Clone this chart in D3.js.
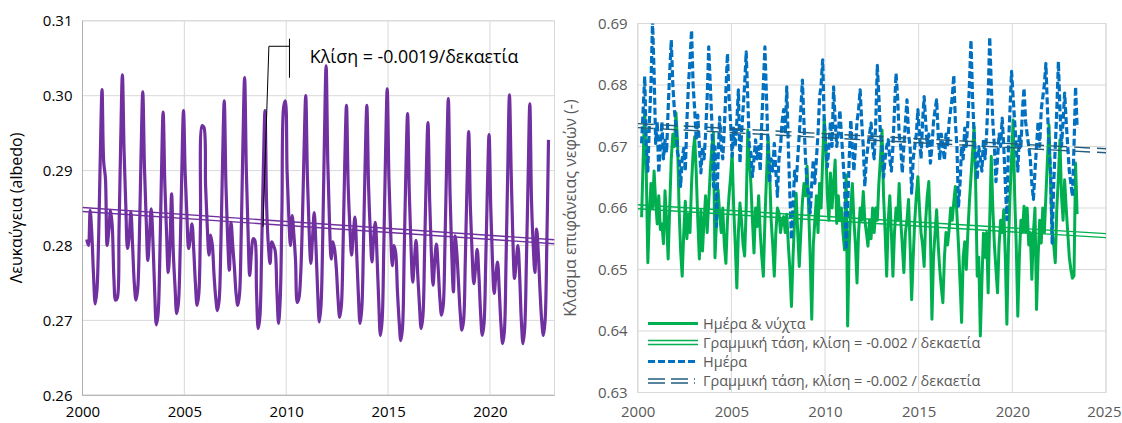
<!DOCTYPE html>
<html>
<head>
<meta charset="utf-8">
<script src="https://cdn.jsdelivr.net/npm/d3@7"></script>
<style>
  body { margin: 0; background: #fff; }
  svg { display: block; font-family: "Open Sans", sans-serif; }
</style>
</head>
<body>
<svg id="chart" width="1122" height="423"></svg>
<script>
// monthly albedo, Mar 2000 .. Nov 2022
var albedo = [
  0.2808, 0.2800, 0.2847, 0.2815, 0.2760, 0.2722, 0.2740, 0.2810, 0.2920, 0.3008,
  0.2911, 0.2890, 0.2800, 0.2820, 0.2847, 0.2827, 0.2756, 0.2727, 0.2730, 0.2818, 0.2938, 0.3028,
  0.2925, 0.2854, 0.2796, 0.2812, 0.2845, 0.2800, 0.2750, 0.2727, 0.2741, 0.2810, 0.2922, 0.3005,
  0.2904, 0.2836, 0.2780, 0.2815, 0.2849, 0.2805, 0.2740, 0.2694, 0.2708, 0.2779, 0.2893, 0.2978,
  0.2882, 0.2818, 0.2764, 0.2800, 0.2869, 0.2790, 0.2745, 0.2709, 0.2723, 0.2790, 0.2899, 0.2980,
  0.2895, 0.2840, 0.2796, 0.2810, 0.2829, 0.2795, 0.2750, 0.2720, 0.2735, 0.2830, 0.2960, 0.2958,
  0.2880, 0.2825, 0.2787, 0.2814, 0.2800, 0.2760, 0.2730, 0.2713, 0.2727, 0.2800, 0.2910, 0.2993,
  0.2880, 0.2810, 0.2767, 0.2831, 0.2800, 0.2770, 0.2735, 0.2720, 0.2735, 0.2815, 0.2935, 0.3024,
  0.2900, 0.2820, 0.2760, 0.2790, 0.2809, 0.2807, 0.2740, 0.2689, 0.2705, 0.2790, 0.2900, 0.2980,
  0.2850, 0.2800, 0.2776, 0.2805, 0.2800, 0.2793, 0.2740, 0.2696, 0.2730, 0.2850, 0.2985, 0.2993,
  0.2900, 0.2840, 0.2800, 0.2840, 0.2815, 0.2780, 0.2724, 0.2730, 0.2760, 0.2830, 0.2925, 0.3000,
  0.2890, 0.2820, 0.2776, 0.2810, 0.2844, 0.2800, 0.2740, 0.2698, 0.2720, 0.2810, 0.2940, 0.3040,
  0.2910, 0.2830, 0.2782, 0.2805, 0.2795, 0.2770, 0.2730, 0.2704, 0.2720, 0.2800, 0.2910, 0.2987,
  0.2880, 0.2825, 0.2787, 0.2815, 0.2838, 0.2790, 0.2735, 0.2696, 0.2715, 0.2800, 0.2910, 0.2987,
  0.2880, 0.2820, 0.2778, 0.2810, 0.2831, 0.2785, 0.2725, 0.2680, 0.2700, 0.2800, 0.2920, 0.3009,
  0.2890, 0.2820, 0.2773, 0.2800, 0.2790, 0.2740, 0.2700, 0.2673, 0.2690, 0.2790, 0.2900, 0.2976,
  0.2870, 0.2800, 0.2751, 0.2780, 0.2807, 0.2760, 0.2720, 0.2689, 0.2705, 0.2790, 0.2895, 0.2964,
  0.2860, 0.2790, 0.2747, 0.2780, 0.2802, 0.2770, 0.2730, 0.2707, 0.2720, 0.2800, 0.2910, 0.2996,
  0.2870, 0.2790, 0.2738, 0.2813, 0.2790, 0.2750, 0.2710, 0.2687, 0.2700, 0.2780, 0.2880, 0.2952,
  0.2850, 0.2790, 0.2749, 0.2770, 0.2795, 0.2760, 0.2710, 0.2680, 0.2695, 0.2775, 0.2875, 0.2948,
  0.2850, 0.2780, 0.2736, 0.2760, 0.2778, 0.2740, 0.2695, 0.2669, 0.2685, 0.2780, 0.2900, 0.3001,
  0.2900, 0.2810, 0.2756, 0.2780, 0.2800, 0.2760, 0.2700, 0.2669, 0.2690, 0.2780, 0.2890, 0.2989,
  0.2860, 0.2800, 0.2764, 0.2822, 0.2790, 0.2740, 0.2700, 0.2680, 0.2700, 0.2800, 0.2941
];

// monthly cloud fraction, Mar 2000 .. Jun 2023
var cloudAll = [
  0.6585, 0.6680, 0.6759, 0.6657, 0.6511, 0.6590, 0.6640, 0.6600, 0.6660, 0.6610,
  0.6574, 0.6620, 0.6565, 0.6574, 0.6542, 0.6628, 0.6580, 0.6517, 0.6600, 0.6680, 0.6720, 0.6700,
  0.6755, 0.6710, 0.6600, 0.6530, 0.6489, 0.6560, 0.6611, 0.6550, 0.6590, 0.6560, 0.6640, 0.6690,
  0.6716, 0.6657, 0.6580, 0.6517, 0.6596, 0.6530, 0.6580, 0.6620, 0.6560, 0.6610, 0.6660, 0.6700,
  0.6722, 0.6519, 0.6580, 0.6630, 0.6590, 0.6560, 0.6600, 0.6540, 0.6510, 0.6580, 0.6620, 0.6650,
  0.6689, 0.6600, 0.6540, 0.6470, 0.6560, 0.6608, 0.6580, 0.6540, 0.6522, 0.6600, 0.6727, 0.6680,
  0.6640, 0.6580, 0.6527, 0.6600, 0.6570, 0.6620, 0.6560, 0.6520, 0.6489, 0.6580, 0.6650, 0.6716,
  0.6660, 0.6580, 0.6540, 0.6489, 0.6560, 0.6600, 0.6592, 0.6560, 0.6580, 0.6586, 0.6560, 0.6590,
  0.6540, 0.6500, 0.6440, 0.6520, 0.6580, 0.6624, 0.6560, 0.6505, 0.6560, 0.6610, 0.6640, 0.6620,
  0.6668, 0.6600, 0.6520, 0.6419, 0.6540, 0.6580, 0.6620, 0.6560, 0.6640, 0.6600, 0.6680, 0.6746,
  0.6700, 0.6620, 0.6580, 0.6657, 0.6600, 0.6640, 0.6678, 0.6575, 0.6620, 0.6580, 0.6600, 0.6560,
  0.6532, 0.6654, 0.6408, 0.6540, 0.6600, 0.6640, 0.6580, 0.6540, 0.6478, 0.6560, 0.6600, 0.6580,
  0.6627, 0.6580, 0.6560, 0.6538, 0.6580, 0.6550, 0.6600, 0.6560, 0.6600, 0.6580, 0.6640, 0.6680,
  0.6727, 0.6620, 0.6560, 0.6489, 0.6580, 0.6620, 0.6560, 0.6489, 0.6560, 0.6600, 0.6580, 0.6640,
  0.6580, 0.6540, 0.6495, 0.6560, 0.6580, 0.6614, 0.6540, 0.6451, 0.6520, 0.6580, 0.6620, 0.6651,
  0.6600, 0.6560, 0.6540, 0.6505, 0.6580, 0.6620, 0.6643, 0.6560, 0.6419, 0.6520, 0.6560, 0.6597,
  0.6540, 0.6500, 0.6470, 0.6446, 0.6520, 0.6560, 0.6540, 0.6565, 0.6600, 0.6580, 0.6610, 0.6635,
  0.6590, 0.6540, 0.6480, 0.6414, 0.6520, 0.6545, 0.6500, 0.6560, 0.6610, 0.6650, 0.6690, 0.6732,
  0.6640, 0.6489, 0.6520, 0.6392, 0.6480, 0.6559, 0.6520, 0.6560, 0.6462, 0.6580, 0.6684, 0.6600,
  0.6540, 0.6500, 0.6462, 0.6540, 0.6580, 0.6560, 0.6597, 0.6520, 0.6411, 0.6540, 0.6620, 0.6680,
  0.6743, 0.6620, 0.6540, 0.6424, 0.6520, 0.6580, 0.6560, 0.6603, 0.6560, 0.6600, 0.6540, 0.6560,
  0.6484, 0.6560, 0.6600, 0.6435, 0.6520, 0.6580, 0.6543, 0.6600, 0.6560, 0.6620, 0.6680, 0.6735,
  0.6640, 0.6560, 0.6540, 0.6511, 0.6600, 0.6650, 0.6711, 0.6620, 0.6580, 0.6646, 0.6600, 0.6560,
  0.6520, 0.6500, 0.6486, 0.6490, 0.6673, 0.6590
];

var cloudDay = [
  0.6705, 0.6760, 0.6814, 0.6700, 0.6660, 0.6740, 0.6800, 0.6905, 0.6820, 0.6705,
  0.6740, 0.6657, 0.6700, 0.6740, 0.6680, 0.6710, 0.6690, 0.6760, 0.6820, 0.6873, 0.6800, 0.6760,
  0.6733, 0.6690, 0.6680, 0.6635, 0.6680, 0.6697, 0.6660, 0.6740, 0.6800, 0.6840, 0.6889, 0.6800,
  0.6760, 0.6710, 0.6751, 0.6700, 0.6657, 0.6700, 0.6680, 0.6720, 0.6780, 0.6862, 0.6800, 0.6740,
  0.6635, 0.6700, 0.6570, 0.6680, 0.6748, 0.6700, 0.6680, 0.6730, 0.6790, 0.6851, 0.6780, 0.6740,
  0.6684, 0.6730, 0.6700, 0.6740, 0.6792, 0.6673, 0.6720, 0.6760, 0.6800, 0.6854, 0.6780, 0.6700,
  0.6690, 0.6651, 0.6680, 0.6711, 0.6680, 0.6700, 0.6660, 0.6740, 0.6800, 0.6862, 0.6780, 0.6700,
  0.6641, 0.6680, 0.6660, 0.6705, 0.6660, 0.6619, 0.6680, 0.6700, 0.6740, 0.6760, 0.6720, 0.6797,
  0.6700, 0.6620, 0.6549, 0.6600, 0.6660, 0.6640, 0.6680, 0.6720, 0.6760, 0.6808, 0.6740, 0.6680,
  0.6640, 0.6620, 0.6592, 0.6640, 0.6678, 0.6640, 0.6680, 0.6720, 0.6780, 0.6800, 0.6841, 0.6740,
  0.6700, 0.6667, 0.6700, 0.6740, 0.6700, 0.6797, 0.6740, 0.6700, 0.6720, 0.6759, 0.6720, 0.6680,
  0.6640, 0.6532, 0.6600, 0.6680, 0.6743, 0.6700, 0.6660, 0.6700, 0.6740, 0.6760, 0.6792, 0.6740,
  0.6700, 0.6635, 0.6680, 0.6700, 0.6720, 0.6738, 0.6700, 0.6680, 0.6740, 0.6832, 0.6780, 0.6720,
  0.6700, 0.6650, 0.6680, 0.6700, 0.6711, 0.6680, 0.6660, 0.6700, 0.6760, 0.6819, 0.6780, 0.6720,
  0.6700, 0.6657, 0.6700, 0.6740, 0.6776, 0.6720, 0.6700, 0.6624, 0.6680, 0.6700, 0.6720, 0.6760,
  0.6720, 0.6680, 0.6740, 0.6781, 0.6740, 0.6700, 0.6720, 0.6673, 0.6700, 0.6740, 0.6760, 0.6776,
  0.6720, 0.6678, 0.6720, 0.6700, 0.6678, 0.6720, 0.6700, 0.6740, 0.6760, 0.6780, 0.6816, 0.6740,
  0.6700, 0.6603, 0.6640, 0.6700, 0.6680, 0.6730, 0.6700, 0.6740, 0.6800, 0.6873, 0.6780, 0.6720,
  0.6680, 0.6646, 0.6700, 0.6680, 0.6660, 0.6711, 0.6680, 0.6720, 0.6780, 0.6878, 0.6800, 0.6740,
  0.6700, 0.6643, 0.6680, 0.6720, 0.6700, 0.6746, 0.6700, 0.6640, 0.6581, 0.6700, 0.6760, 0.6822,
  0.6780, 0.6740, 0.6700, 0.6660, 0.6720, 0.6700, 0.6760, 0.6795, 0.6740, 0.6720, 0.6700, 0.6680,
  0.6640, 0.6614, 0.6660, 0.6700, 0.6740, 0.6700, 0.6760, 0.6780, 0.6800, 0.6835, 0.6760, 0.6700,
  0.6660, 0.6543, 0.6640, 0.6700, 0.6760, 0.6838, 0.6760, 0.6700, 0.6740, 0.6787, 0.6740, 0.6700,
  0.6660, 0.6640, 0.6619, 0.6700, 0.6797, 0.6730
];

// linear trends (value at start / end of each axis)
var albedoTrendYears = [2000, 2023.17];
var albedoTrend = [0.2848, 0.2805];
var cloudTrendYears = [2000, 2025];
var cloudAllTrend = [0.6602, 0.6555];
var cloudDayTrend = [0.6734, 0.6693];

var albedoTicks = [0.26, 0.27, 0.28, 0.29, 0.30, 0.31];
var albedoYears = [2000, 2005, 2010, 2015, 2020];
var cloudTicks = [0.63, 0.64, 0.65, 0.66, 0.67, 0.68, 0.69];
var cloudYears = [2000, 2005, 2010, 2015, 2020, 2025];

var slopeLabel = 'Κλίση = -0.0019/δεκαετία';
var legendLabels = ['Ημέρα & νύχτα', 'Γραμμική τάση, κλίση = -0.002 / δεκαετία',
                    'Ημέρα', 'Γραμμική τάση, κλίση = -0.002 / δεκαετία'];

// month index -> decimal year (series start in March 2000)
function monthYear(i) { return 2000 + (i + 2 + 0.5) / 12; }

var svg = d3.select('#chart');
var gridColor = '#d9d9d9';
var font = '"Open Sans", sans-serif';

function trendPair(g, x, y, years, vals, color, dash) {
  [-2, 2].forEach(function (off) {
    g.append('line')
      .attr('x1', x(years[0])).attr('x2', x(years[1]))
      .attr('y1', y(vals[0]) + off).attr('y2', y(vals[1]) + off)
      .attr('stroke', color)
      .attr('stroke-width', 1.4)
      .attr('stroke-dasharray', dash || null);
  });
}

function frame(x, y, yTicks, xTicks, axisColor) {
  var g = svg.append('g');
  yTicks.forEach(function (v) {
    g.append('line').attr('x1', x.range()[0]).attr('x2', x.range()[1])
      .attr('y1', y(v)).attr('y2', y(v)).attr('stroke', gridColor);
  });
  xTicks.forEach(function (v) {
    g.append('line').attr('x1', x(v)).attr('x2', x(v))
      .attr('y1', y.range()[0]).attr('y2', y.range()[1]).attr('stroke', gridColor);
  });
  g.append('rect')
    .attr('x', x.range()[0]).attr('y', y.range()[1])
    .attr('width', x.range()[1] - x.range()[0])
    .attr('height', y.range()[0] - y.range()[1])
    .attr('fill', 'none').attr('stroke', gridColor);
  g.append('line').attr('x1', x.range()[0]).attr('x2', x.range()[0])
    .attr('y1', y.range()[0]).attr('y2', y.range()[1]).attr('stroke', axisColor);
  g.append('line').attr('x1', x.range()[0]).attr('x2', x.range()[1])
    .attr('y1', y.range()[0]).attr('y2', y.range()[0]).attr('stroke', axisColor);
  return g;
}

function axes(x, y, yTicks, xTicks, color, xPad) {
  svg.append('g')
    .attr('transform', 'translate(' + x.range()[0] + ',0)')
    .call(d3.axisLeft(y).tickValues(yTicks).tickSize(0).tickPadding(10).tickFormat(d3.format('.2f')))
    .call(function (g) { g.select('.domain').remove(); })
    .attr('font-family', font).attr('font-size', 15)
    .selectAll('text').attr('fill', color);
  var xa = svg.append('g')
    .attr('transform', 'translate(0,' + y.range()[0] + ')')
    .call(d3.axisBottom(x).tickValues(xTicks).tickSize(0).tickPadding(xPad).tickFormat(d3.format('d')))
    .call(function (g) { g.select('.domain').remove(); })
    .attr('font-family', font).attr('font-size', 15);
  xa.selectAll('text').attr('fill', color);
  // keep the last label inside the picture
  xa.selectAll('.tick').filter(function (d) { return x(d) + 19 > 1122; })
    .select('text').attr('text-anchor', 'end').attr('x', 1121 - x.range()[1] + 0);
}

// ---------- left: albedo ----------
var xL = d3.scaleLinear().domain([2000, 2023.17]).range([82.5, 554.5]);
var yL = d3.scaleLinear().domain([0.26, 0.31]).range([395.3, 20.8]);

frame(xL, yL, albedoTicks, albedoYears, '#b0b0b0');
axes(xL, yL, albedoTicks, albedoYears, '#000', 11);

svg.append('clipPath').attr('id', 'clipL').append('rect')
  .attr('x', 82.5).attr('y', 20.8).attr('width', 472).attr('height', 374.5);

var gL = svg.append('g').attr('clip-path', 'url(#clipL)');
gL.append('path')
  .datum(albedo)
  .attr('fill', 'none')
  .attr('stroke', '#7030a0')
  .attr('stroke-width', 3.2)
  .attr('stroke-linejoin', 'round')
  .attr('d', d3.line()
    .x(function (d, i) { return xL(monthYear(i)); })
    .y(function (d) { return yL(d); })
    .curve(d3.curveCatmullRom.alpha(0.5)));
trendPair(gL, xL, yL, albedoTrendYears, albedoTrend, '#7030a0');

// slope annotation with leader line
svg.append('path')
  .attr('d', d3.line()([
    [xL(2008.86), yL(0.2825)], [xL(2009.15), yL(0.3066)], [xL(2010.16), yL(0.3066)]
  ]))
  .attr('fill', 'none').attr('stroke', '#000').attr('stroke-width', 1);
svg.append('line')
  .attr('x1', xL(2010.16)).attr('x2', xL(2010.16))
  .attr('y1', yL(0.3076)).attr('y2', yL(0.3024))
  .attr('stroke', '#000').attr('stroke-width', 1);
svg.append('text')
  .attr('x', xL(2011.16)).attr('y', yL(0.3043))
  .attr('font-family', font).attr('font-size', 17.8)
  .attr('fill', '#000')
  .text(slopeLabel);

svg.append('text')
  .attr('transform', 'translate(22,208) rotate(-90)')
  .attr('text-anchor', 'middle')
  .attr('font-family', font).attr('font-size', 16)
  .attr('fill', '#000')
  .text('Λευκαύγεια (albedo)');

// ---------- right: cloud fraction ----------
var xR = d3.scaleLinear().domain([2000, 2025]).range([637.7, 1106]);
var yR = d3.scaleLinear().domain([0.63, 0.69]).range([392.5, 23.5]);

frame(xR, yR, cloudTicks, cloudYears, gridColor);
axes(xR, yR, cloudTicks, cloudYears, '#595959', 14);

svg.append('clipPath').attr('id', 'clipR').append('rect')
  .attr('x', 637.7).attr('y', 23.5).attr('width', 468.3).attr('height', 369);

var gR = svg.append('g').attr('clip-path', 'url(#clipR)');
var lineR = d3.line()
  .x(function (d, i) { return xR(monthYear(i)); })
  .y(function (d) { return yR(d); });

gR.append('path').datum(cloudAll)
  .attr('fill', 'none').attr('stroke', '#00b050').attr('stroke-width', 3)
  .attr('stroke-linejoin', 'round').attr('d', lineR);
gR.append('path').datum(cloudDay)
  .attr('fill', 'none').attr('stroke', '#0070c0').attr('stroke-width', 3.2)
  .attr('stroke-dasharray', '7,3')
  .attr('stroke-linejoin', 'round').attr('d', lineR);
trendPair(gR, xR, yR, cloudTrendYears, cloudAllTrend, '#00b050');
trendPair(gR, xR, yR, cloudTrendYears, cloudDayTrend, '#215d7d', '16,7');

svg.append('text')
  .attr('transform', 'translate(576,208) rotate(-90)')
  .attr('text-anchor', 'middle')
  .attr('font-family', font).attr('font-size', 16)
  .attr('fill', '#595959')
  .text('Κλάσμα επιφάνειας νεφών (-)');

// legend
var legendRows = [323.5, 342.5, 361.5, 381];
var legend = svg.append('g');
legendLabels.forEach(function (label, i) {
  var yy = legendRows[i];
  if (i === 0) {
    legend.append('line').attr('x1', 648).attr('x2', 698).attr('y1', yy).attr('y2', yy)
      .attr('stroke', '#00b050').attr('stroke-width', 3);
  } else if (i === 2) {
    legend.append('line').attr('x1', 648).attr('x2', 698).attr('y1', yy).attr('y2', yy)
      .attr('stroke', '#0070c0').attr('stroke-width', 3).attr('stroke-dasharray', '7,3');
  } else {
    var col = i === 1 ? '#00b050' : '#215d7d';
    [-2, 2].forEach(function (off) {
      legend.append('line').attr('x1', 648).attr('x2', i === 1 ? 698 : 695)
        .attr('y1', yy + off).attr('y2', yy + off)
        .attr('stroke', col).attr('stroke-width', 1.4)
        .attr('stroke-dasharray', i === 3 ? '17,6' : null);
    });
  }
  legend.append('text')
    .attr('x', 703).attr('y', yy)
    .attr('dy', '0.35em')
    .attr('font-family', font).attr('font-size', 14.5)
    .attr('fill', '#595959')
    .text(label);
});
</script>
</body>
</html>
